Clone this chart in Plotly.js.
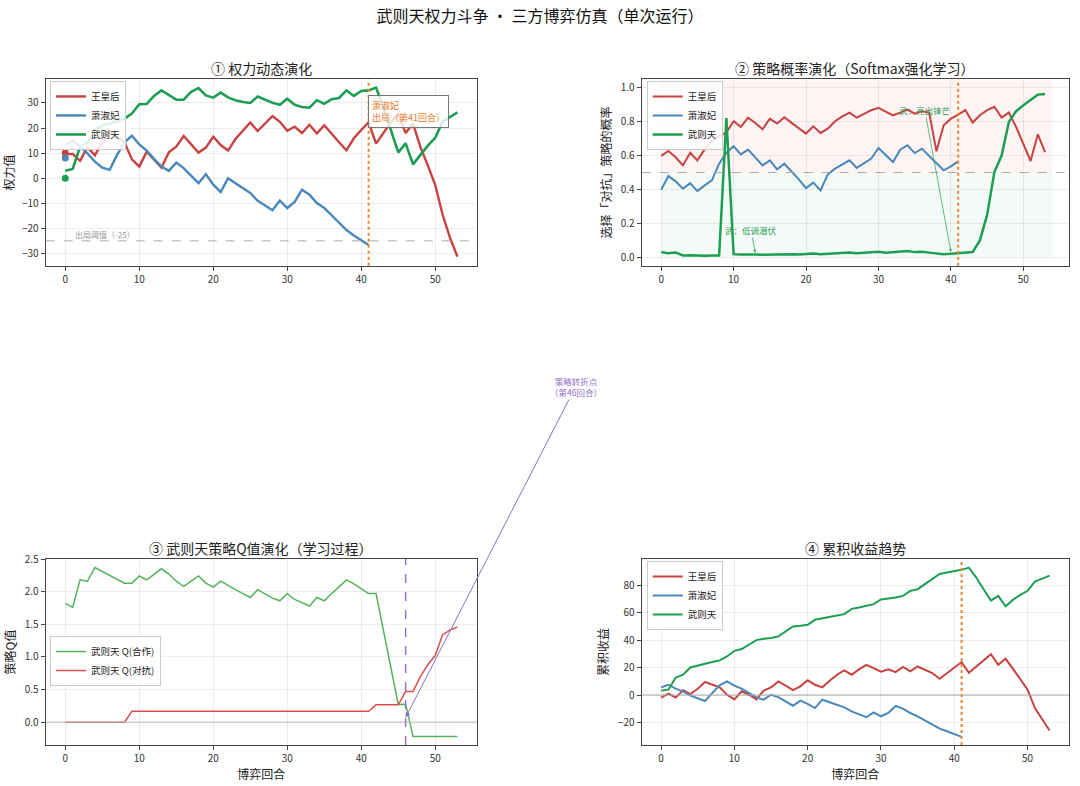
<!DOCTYPE html>
<html>
<head>
<meta charset="utf-8">
<script src="https://cdn.plot.ly/plotly-3.0.1.min.js"></script>
<style>
  html, body { margin: 0; padding: 0; background: #fff; }
  #chart { width: 1080px; height: 786px; }
</style>
</head>
<body>
<div id="chart"></div>
<script>
// ---------------- data ----------------
const rounds = [0,1,2,3,4,5,6,7,8,9,10,11,12,13,14,15,16,17,18,19,20,21,22,23,24,25,26,27,28,29,30,31,32,33,34,35,36,37,38,39,40,41,42,43,44,45,46,47,48,49,50,51,52,53];
const roundsXiao = [0,1,2,3,4,5,6,7,8,9,10,11,12,13,14,15,16,17,18,19,20,21,22,23,24,25,26,27,28,29,30,31,32,33,34,35,36,37,38,39,40,41];

const players = ['王皇后', '萧淑妃', '武则天'];
const initPower = [10, 8, 0];

// ① power
const powerWang = [9.6,9.7,6.9,12.4,9.1,14.5,18.6,16.5,14.3,7.5,4.6,10.6,7.3,4.2,10.3,12.6,16.8,13.5,10.2,12.2,16.5,13.2,11,15.6,18.9,22.2,18.8,21.8,24.8,22.5,18.9,20.5,18,21.3,17.8,21.1,17.6,14.3,11.1,15.9,19.2,22.3,13.8,18,22.3,25.5,18,21.8,12.4,5.1,-2.8,-14.6,-23.8,-31.3];
const powerXiao = [13.2,14.9,12.6,9.9,6.6,4.2,3.3,9.3,14.3,16.9,13.5,11,7.7,4.6,2.9,6.2,4,1.1,-2,1.6,-2.6,-5.5,0,-2,-4,-5.9,-9,-10.8,-12.8,-8.9,-11.9,-9.5,-4.6,-6.6,-9.9,-11.9,-14.9,-17.8,-20.7,-22.9,-24.8,-26.7];
const powerWu = [3,3.7,12.6,14.1,19.6,20.9,21.8,22.9,23.8,25.8,29.5,29.6,32.8,35,33,31.3,31.3,34.4,35.9,33,32.1,34.1,32.2,31.1,30.4,30,32.6,31.3,30.1,29.3,31.7,29.3,28.4,28.1,31.1,29.7,31.5,32,35,32.8,34.8,35,36.1,28.2,19,10.3,13.9,5.5,9.3,13,16.1,22.5,24.4,26.2];

// ② probability of choosing "对抗"
const probWang = [0.598,0.627,0.59,0.542,0.617,0.572,0.637,0.686,0.714,0.736,0.803,0.77,0.824,0.793,0.755,0.818,0.789,0.826,0.793,0.759,0.73,0.773,0.734,0.759,0.803,0.832,0.854,0.824,0.848,0.868,0.882,0.862,0.838,0.854,0.872,0.848,0.862,0.854,0.625,0.779,0.818,0.842,0.868,0.795,0.838,0.868,0.888,0.824,0.854,0.769,0.671,0.568,0.726,0.621];
const probXiao = [0.398,0.479,0.448,0.404,0.437,0.39,0.424,0.454,0.552,0.617,0.655,0.607,0.635,0.586,0.542,0.572,0.519,0.552,0.507,0.46,0.408,0.44,0.394,0.489,0.523,0.546,0.572,0.527,0.552,0.582,0.645,0.605,0.562,0.635,0.661,0.615,0.641,0.598,0.556,0.513,0.536,0.566];
const probWu = [0.03,0.024,0.028,0.01,0.012,0.008,0.008,0.01,0.01,0.822,0.018,0.016,0.018,0.016,0.014,0.015,0.018,0.02,0.018,0.016,0.02,0.022,0.018,0.02,0.022,0.025,0.027,0.024,0.026,0.028,0.032,0.027,0.03,0.033,0.036,0.03,0.032,0.027,0.022,0.018,0.02,0.022,0.025,0.03,0.099,0.25,0.503,0.6,0.799,0.862,0.897,0.927,0.96,0.964];
const zoneX = [0, 54];
const zoneSplit = 0.5;

// ③ Q values of 武则天
const qCoop = [1.82,1.76,2.18,2.16,2.37,2.31,2.25,2.19,2.13,2.13,2.24,2.18,2.27,2.35,2.27,2.16,2.08,2.16,2.24,2.13,2.07,2.16,2.09,2.03,1.97,1.91,2.03,1.96,1.9,1.86,1.97,1.88,1.83,1.78,1.91,1.86,1.97,2.08,2.18,2.12,2.05,1.97,1.97,1.4,0.84,0.27,0.275,-0.22,-0.22,-0.22,-0.22,-0.22,-0.22,-0.22];
const qConf = [0,0,0,0,0,0,0,0,0,0.165,0.165,0.165,0.165,0.165,0.165,0.165,0.165,0.165,0.165,0.165,0.165,0.165,0.165,0.165,0.165,0.165,0.165,0.165,0.165,0.165,0.165,0.165,0.165,0.165,0.165,0.165,0.165,0.165,0.165,0.165,0.165,0.165,0.265,0.265,0.265,0.265,0.47,0.47,0.7,0.88,1.02,1.34,1.41,1.46];

// ④ cumulative payoff
const cumWang = [-1.9,1,-1.9,3.4,0.7,4.6,9.5,7.5,5.6,0.2,-3.2,2.7,0.2,-3.2,3.2,5.6,9.9,6.8,3.6,6.3,10.7,7.5,5.6,10.4,14.8,17.9,14.8,18.7,22,19.6,17,18.7,16.7,20.4,17.2,20.8,18.4,16,11.9,16,20.1,24,16.2,20.8,25.7,29.8,22,26.4,19.2,11.6,3.9,-9.5,-17.9,-25.9];
const cumXiao = [5.6,7.5,4.6,2.7,-0.5,-2.7,-4.4,1.5,7,9.9,6.8,4.6,1.5,-1.7,-3.4,0.2,-1.5,-4.6,-7.8,-4.1,-6.5,-9.5,-3.4,-5.3,-7,-9,-11.9,-13.8,-16.2,-12.6,-15.5,-13.1,-8,-9.9,-13.1,-15.5,-18.7,-21.6,-24.5,-26.4,-28.4,-30.5];
const cumWu = [3.2,3.9,12.8,14.8,20.1,21.6,22.8,24,25.2,28.1,32.2,33.5,36.6,40,41,41.5,42.7,46.3,50,50.4,51.2,54.8,56,57,57.9,58.9,62.8,63.8,65,66.2,69.6,70.1,71,72.2,75.9,77.1,80.7,84.4,88.2,89.2,90.2,91.2,92.8,85.6,77.1,68.8,72.2,64.7,69.3,73,75.9,82.7,84.8,87];

const exitRound = 41;
const exitThreshold = -25;
const turnRound = 46;

// ---------------- styling ----------------
const FONT = '"Noto Sans CJK SC", "DejaVu Sans", sans-serif';
const C_RED = '#c8423f';
const C_BLUE = '#4a87ba';
const C_GREEN = '#1e9e52';
const C_ORANGE = '#f0852f';
const C_PURPLE = '#8e6fcc';

function axis(extra) {
  return Object.assign({
    showline: true, mirror: true, linecolor: '#444', linewidth: 1,
    ticks: 'outside', ticklen: 4, tickcolor: '#444', tickwidth: 1,
    showgrid: true, gridcolor: 'rgba(0,0,0,0.07)', gridwidth: 1,
    zeroline: false,
    tickfont: { size: 10, color: '#333', family: FONT }
  }, extra);
}

const XL = [0.0423, 0.4417];
const XR = [0.5941, 0.9898];
const YT = [0.662, 0.899];
const YB = [0.0522, 0.2888];

function line(x, y, name, color, width, xa, ya, legend) {
  return { type: 'scatter', mode: 'lines', x: x, y: y, name: name,
    line: { color: color, width: width }, xaxis: xa, yaxis: ya, legend: legend };
}

const traces = [
  line(rounds, powerWang, players[0], C_RED, 2.4, 'x', 'y', 'legend'),
  line(roundsXiao, powerXiao, players[1], C_BLUE, 2.4, 'x', 'y', 'legend'),
  line(rounds, powerWu, players[2], C_GREEN, 2.6, 'x', 'y', 'legend'),
  { type: 'scatter', mode: 'markers', x: [0, 0, 0], y: initPower, xaxis: 'x', yaxis: 'y',
    marker: { color: [C_RED, C_BLUE, C_GREEN], size: 7 }, showlegend: false, hoverinfo: 'skip' },

  line(rounds, probWang, players[0], C_RED, 2, 'x2', 'y2', 'legend2'),
  line(roundsXiao, probXiao, players[1], C_BLUE, 2, 'x2', 'y2', 'legend2'),
  line(rounds, probWu, players[2], C_GREEN, 2.5, 'x2', 'y2', 'legend2'),

  line(rounds, qCoop, '武则天 Q(合作)', '#55b358', 1.5, 'x3', 'y3', 'legend3'),
  line(rounds, qConf, '武则天 Q(对抗)', '#d9504c', 1.5, 'x3', 'y3', 'legend3'),

  line(rounds, cumWang, players[0], C_RED, 2, 'x4', 'y4', 'legend4'),
  line(roundsXiao, cumXiao, players[1], C_BLUE, 2, 'x4', 'y4', 'legend4'),
  line(rounds, cumWu, players[2], C_GREEN, 2, 'x4', 'y4', 'legend4')
];

function legendAt(x, y) {
  return { x: x, y: y, xanchor: 'left', yanchor: 'top',
    bgcolor: 'rgba(255,255,255,0.85)', bordercolor: '#cccccc', borderwidth: 1,
    font: { size: 9.5, color: '#222', family: FONT }, tracegroupgap: 0, itemwidth: 30 };
}

function vline(xa, x, color, dash, width) {
  return { type: 'line', xref: xa, yref: xa.replace('x', 'y') + ' domain', x0: x, x1: x, y0: 0, y1: 1,
    line: { color: color, dash: dash, width: width } };
}
function hline(ya, y, color, dash, width) {
  return { type: 'line', yref: ya, xref: ya.replace('y', 'x') + ' domain', y0: y, y1: y, x0: 0, x1: 1,
    line: { color: color, dash: dash, width: width } };
}

const shapes = [
  hline('y', exitThreshold, '#aaaaaa', 'dash', 1),
  vline('x', exitRound, C_ORANGE, 'dot', 2),

  { type: 'rect', layer: 'below', xref: 'x2', yref: 'y2', x0: zoneX[0], x1: zoneX[1], y0: zoneSplit, y1: 1.05,
    fillcolor: 'rgba(230,60,60,0.06)', line: { width: 0 } },
  { type: 'rect', layer: 'below', xref: 'x2', yref: 'y2', x0: zoneX[0], x1: zoneX[1], y0: 0, y1: zoneSplit,
    fillcolor: 'rgba(40,170,70,0.05)', line: { width: 0 } },
  hline('y2', zoneSplit, '#aaaaaa', 'dash', 1),
  vline('x2', exitRound, C_ORANGE, 'dot', 2),

  hline('y3', 0, '#bbbbbb', 'solid', 1),
  vline('x3', turnRound, C_PURPLE, 'dash', 1.4),

  hline('y4', 0, '#aaaaaa', 'solid', 1),
  vline('x4', exitRound, C_ORANGE, 'dot', 2)
];

function subTitle(text, x, y) {
  return { xref: 'paper', yref: 'paper', x: x, y: y, xanchor: 'center', yanchor: 'middle',
    text: text, showarrow: false, font: { size: 14, color: '#222', family: FONT } };
}

const annotations = [
  subTitle('① 权力动态演化', (XL[0] + XL[1]) / 2, 1 - 68 / 786),
  subTitle('② 策略概率演化（Softmax强化学习）', (XR[0] + XR[1]) / 2, 1 - 68 / 786),
  subTitle('③ 武则天策略Q值演化（学习过程）', (XL[0] + XL[1]) / 2, 1 - 548 / 786),
  subTitle('④ 累积收益趋势', (XR[0] + XR[1]) / 2, 1 - 548 / 786),

  { xref: 'x', yref: 'y', x: 40.9, y: 26.4, xanchor: 'left', yanchor: 'middle', align: 'left',
    text: '萧淑妃<br>出局（第41回合）', showarrow: false,
    font: { size: 9, color: '#ee7a28', family: FONT },
    bgcolor: 'rgba(255,255,255,0.8)', bordercolor: '#777', borderwidth: 1, borderpad: 3 },
  { xref: 'x', yref: 'y', x: 1, y: -22.3, xanchor: 'left', yanchor: 'middle',
    text: '出局阈值（-25）', showarrow: false, font: { size: 8, color: '#999', family: FONT } },

  { xref: 'x2', yref: 'y2', x: 13, y: 0.025, axref: 'x2', ayref: 'y2', ax: 12.4, ay: 0.16,
    text: '武：低调潜伏', showarrow: true, arrowhead: 2, arrowsize: 0.8, arrowwidth: 0.8,
    arrowcolor: '#3aa865', font: { size: 8.5, color: '#2e9e5a', family: FONT } },
  { xref: 'x2', yref: 'y2', x: 40, y: 0.03, axref: 'x2', ayref: 'y2', ax: 36.4, ay: 0.868,
    text: '武：亮出锋芒', showarrow: true, arrowhead: 2, arrowsize: 0.8, arrowwidth: 0.8,
    arrowcolor: '#3aa865', font: { size: 8.5, color: '#2e9e5a', family: FONT } },

  { xref: 'x3', yref: 'y3', x: turnRound, y: 0.07, ax: 170, ay: -331,
    text: '策略转折点<br>（第46回合）', showarrow: true, arrowhead: 2, arrowsize: 1, arrowwidth: 1,
    arrowcolor: C_PURPLE, font: { size: 8.5, color: C_PURPLE, family: FONT } }
];

const yTitleFont = { size: 12, color: '#222', family: FONT };

const layout = {
  width: 1080, height: 786,
  margin: { l: 0, r: 0, t: 0, b: 0 },
  paper_bgcolor: '#ffffff', plot_bgcolor: '#ffffff',
  font: { family: FONT, color: '#222' },
  title: { text: '武则天权力斗争 · 三方博弈仿真（单次运行）', x: 0.5, xanchor: 'center',
    yref: 'container', y: 1 - 16 / 786, yanchor: 'middle', font: { size: 16, color: '#111', family: FONT } },
  showlegend: true,
  legend: legendAt(0.0463, 0.897),
  legend2: legendAt(0.5988, 0.897),
  legend3: legendAt(0.0463, 0.1908),
  legend4: legendAt(0.5988, 0.2863),

  xaxis: axis({ domain: XL, anchor: 'y', range: [-2.65, 55.65], tick0: 0, dtick: 10 }),
  yaxis: axis({ domain: YT, anchor: 'x', range: [-34.9, 39.4], tick0: 0, dtick: 10,
    title: { text: '权力值', font: yTitleFont, standoff: 6 } }),

  xaxis2: axis({ domain: XR, anchor: 'y2', range: [-2.7, 56.3], tick0: 0, dtick: 10 }),
  yaxis2: axis({ domain: YT, anchor: 'x2', range: [-0.05, 1.05], tick0: 0, dtick: 0.2, tickformat: '.1f',
    title: { text: '选择「对抗」策略的概率', font: yTitleFont, standoff: 6 } }),

  xaxis3: axis({ domain: XL, anchor: 'y3', range: [-2.65, 55.65], tick0: 0, dtick: 10,
    title: { text: '博弈回合', font: yTitleFont, standoff: 6 } }),
  yaxis3: axis({ domain: YB, anchor: 'x3', range: [-0.35, 2.5], tick0: 0, dtick: 0.5, tickformat: '.1f',
    title: { text: '策略Q值', font: yTitleFont, standoff: 6 } }),

  xaxis4: axis({ domain: XR, anchor: 'y4', range: [-2.65, 55.65], tick0: 0, dtick: 10,
    title: { text: '博弈回合', font: yTitleFont, standoff: 6 } }),
  yaxis4: axis({ domain: YB, anchor: 'x4', range: [-36.4, 99.1], tick0: 0, dtick: 20,
    title: { text: '累积收益', font: yTitleFont, standoff: 6 } }),

  shapes: shapes,
  annotations: annotations
};

Plotly.newPlot('chart', traces, layout, { displayModeBar: false, staticPlot: true });
</script>
</body>
</html>
